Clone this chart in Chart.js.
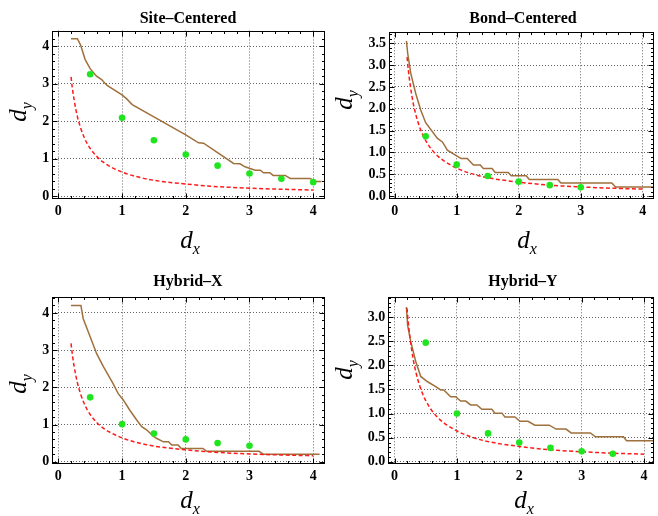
<!DOCTYPE html>
<html>
<head>
<meta charset="utf-8">
<script src="https://cdn.jsdelivr.net/npm/chart.js@4.4.1/dist/chart.umd.min.js"></script>
<style>
  html, body { margin: 0; padding: 0; background: #fff; }
  #wrap { position: relative; width: 658px; height: 516px; overflow: hidden; }
  canvas { position: absolute; }
  .tt { position: absolute; transform: translateX(-50%); font: bold 16px "Liberation Serif", serif; line-height: 1; white-space: nowrap; color: #000; }
  .ax { position: absolute; transform: translateX(-50%); font: italic 25px "Liberation Serif", serif; line-height: 1; white-space: nowrap; color: #000; }
  .ay { position: absolute; transform: translate(-50%, -50%) rotate(-90deg); font: italic 25px "Liberation Serif", serif; line-height: 1; white-space: nowrap; color: #000; }
  sub { font-size: 16px; line-height: 0; }
</style>
</head>
<body>
<div id="wrap">
  <canvas id="c1" width="329" height="258" style="left:0;top:0"></canvas>
  <canvas id="c2" width="329" height="258" style="left:329px;top:0"></canvas>
  <canvas id="c3" width="329" height="258" style="left:0;top:258px"></canvas>
  <canvas id="c4" width="329" height="258" style="left:329px;top:258px"></canvas>

  <div class="tt" style="left:188px;top:10px">Site–Centered</div>
  <div class="tt" style="left:523px;top:10px">Bond–Centered</div>
  <div class="tt" style="left:188px;top:273px">Hybrid–X</div>
  <div class="tt" style="left:523px;top:273px">Hybrid–Y</div>

  <div class="ax" style="left:190px;top:227px">d<sub>x</sub></div>
  <div class="ax" style="left:527px;top:227px">d<sub>x</sub></div>
  <div class="ax" style="left:190px;top:487px">d<sub>x</sub></div>
  <div class="ax" style="left:524px;top:487px">d<sub>x</sub></div>

  <div class="ay" style="left:17px;top:112px">d<sub>y</sub></div>
  <div class="ay" style="left:343px;top:100px">d<sub>y</sub></div>
  <div class="ay" style="left:17px;top:384px">d<sub>y</sub></div>
  <div class="ay" style="left:343px;top:370px">d<sub>y</sub></div>
</div>

<script>
// ================= DATA =================
const xTicks = [0, 1, 2, 3, 4];
const yTicksInt = [0, 1, 2, 3, 4];
const yTicksBond = [0, 0.5, 1, 1.5, 2, 2.5, 3, 3.5];
const yTicksHybY = [0, 0.5, 1, 1.5, 2, 2.5, 3];

// green points (measured)
const greenX = [0.5, 1, 1.5, 2, 2.5, 3, 3.5, 4];
const siteGreen = [3.25, 2.09, 1.49, 1.11, 0.81, 0.60, 0.46, 0.37];
const bondGreen = [1.37, 0.72, 0.46, 0.33, 0.25, 0.20];
const hybXGreen = [1.73, 1.01, 0.76, 0.60, 0.50, 0.43];
const hybYGreen = [2.47, 1.00, 0.59, 0.40, 0.29, 0.22, 0.17];

// red dashed curve, same in every panel
const curveX = [0.2, 0.22, 0.25, 0.3, 0.35, 0.4, 0.45, 0.5, 0.6, 0.7, 0.8, 1.0, 1.2, 1.5, 2.0, 2.5, 3.0, 3.5, 4.0];
const curveY = [3.18, 2.89, 2.55, 2.12, 1.82, 1.59, 1.41, 1.27, 1.06, 0.91, 0.80, 0.64, 0.53, 0.42, 0.32, 0.25, 0.21, 0.18, 0.16];

// brown lines
const siteX = [0.2, 0.3, 0.35, 0.42, 0.5, 0.6, 0.68, 0.76, 1.0, 1.07, 1.16, 2.0, 2.2, 2.28, 2.75, 2.85, 2.93, 3.09, 3.17, 3.22, 3.32, 3.37, 3.56, 3.64, 3.95, 4.03, 4.13];
const siteY = [4.2, 4.2, 4.03, 3.65, 3.4, 3.2, 3.11, 2.96, 2.7, 2.6, 2.44, 1.63, 1.42, 1.41, 0.87, 0.86, 0.78, 0.69, 0.69, 0.62, 0.62, 0.55, 0.55, 0.47, 0.47, 0.39, 0.39];

const bondX = [0.19, 0.21, 0.26, 0.34, 0.42, 0.5, 0.69, 0.77, 0.85, 1.0, 1.07, 1.17, 1.27, 1.38, 1.43, 1.57, 1.62, 1.83, 1.88, 2.12, 2.17, 2.63, 2.68, 3.5, 3.56, 4.17];
const bondY = [3.55, 3.27, 2.81, 2.35, 1.97, 1.68, 1.32, 1.24, 1.05, 0.92, 0.86, 0.86, 0.71, 0.71, 0.63, 0.63, 0.54, 0.54, 0.465, 0.465, 0.38, 0.38, 0.30, 0.30, 0.21, 0.21];

const hybXX = [0.2, 0.355, 0.39, 0.5, 0.6, 0.71, 0.86, 0.94, 1.02, 1.12, 1.23, 1.31, 1.39, 1.48, 1.54, 1.65, 1.73, 1.78, 1.88, 1.93, 2.27, 2.33, 3.15, 3.22, 4.1];
const hybXY = [4.2, 4.2, 3.85, 3.36, 2.91, 2.55, 2.10, 1.83, 1.66, 1.39, 1.12, 0.94, 0.85, 0.70, 0.63, 0.535, 0.535, 0.45, 0.45, 0.355, 0.355, 0.28, 0.28, 0.20, 0.20];

const hybYX = [0.19, 0.21, 0.26, 0.34, 0.42, 0.53, 0.66, 0.74, 0.79, 0.9, 0.98, 1.06, 1.14, 1.22, 1.32, 1.4, 1.56, 1.61, 1.72, 1.77, 1.93, 2.01, 2.14, 2.25, 2.48, 2.59, 2.75, 2.83, 3.14, 3.22, 3.67, 3.72, 4.15];
const hybYY = [3.21, 2.83, 2.49, 2.08, 1.77, 1.66, 1.56, 1.49, 1.49, 1.35, 1.35, 1.26, 1.26, 1.18, 1.18, 1.09, 1.09, 1.01, 1.01, 0.93, 0.93, 0.84, 0.84, 0.76, 0.76, 0.68, 0.68, 0.60, 0.60, 0.52, 0.52, 0.44, 0.44];

// ================= HELPERS =================
const BROWN = "#a0703c";
const pts = (xs, ys) => ys.map((y, i) => ({ x: xs[i], y }));

// black frame with inward major/minor ticks (Mathematica style)
const frame = {
    id: "frame",
    afterDraw(chart, args, opts) {
        const { ctx, chartArea: a, scales: { x, y } } = chart;
        const L = Math.round(a.left) + 0.5, R = Math.round(a.right) - 0.5;
        const T = Math.round(a.top) + 0.5, B = Math.round(a.bottom) - 0.5;
        ctx.save();
        ctx.strokeStyle = "#000";
        ctx.lineWidth = 1;
        ctx.beginPath();
        const tick = (axis, step, majorStep, horiz) => {
            for (let v = Math.ceil(axis.min / step) * step; v <= axis.max + 1e-9; v += step) {
                const vv = Math.round(v * 1000) / 1000;
                const major = Math.abs(vv / majorStep - Math.round(vv / majorStep)) < 1e-6;
                const len = major ? 5 : 2.5;
                const p = Math.round(axis.getPixelForValue(vv)) + 0.5;
                if (horiz) {
                    ctx.moveTo(p, B); ctx.lineTo(p, B - len);
                    ctx.moveTo(p, T); ctx.lineTo(p, T + len);
                } else {
                    ctx.moveTo(L, p); ctx.lineTo(L + len, p);
                    ctx.moveTo(R, p); ctx.lineTo(R - len, p);
                }
            }
        };
        tick(x, 0.2, 1, true);
        tick(y, opts.yMinor, opts.yMajor, false);
        ctx.stroke();
        ctx.strokeRect(L, T, R - L, B - T);
        ctx.restore();
    }
};

function makePanel(id, canvasBox, box, xr, yr, yTicks, decimals, brownX, brownY, green) {
    const [cl, ct, cw, ch] = canvasBox;
    const xH = 24;
    const yW = box.l - cl;
    const step = yTicks[1] - yTicks[0];
    new Chart(document.getElementById(id), {
        type: "scatter",
        data: {
            datasets: [
                {
                    data: pts(greenX, green),
                    showLine: false,
                    pointRadius: 3.3,
                    pointBackgroundColor: "#1ee51e",
                    pointBorderWidth: 0
                },
                {
                    data: pts(curveX, curveY),
                    showLine: true,
                    borderColor: "#ff1a1a",
                    borderWidth: 1.5,
                    borderDash: [4, 2.5],
                    cubicInterpolationMode: "monotone",
                    pointRadius: 0
                },
                {
                    data: pts(brownX, brownY),
                    showLine: true,
                    borderColor: BROWN,
                    borderWidth: 1.5,
                    tension: 0,
                    pointRadius: 0
                }
            ]
        },
        options: {
            responsive: false,
            animation: false,
            events: [],
            layout: {
                padding: { left: 0, top: box.t - ct, right: cl + cw - box.r, bottom: ct + ch - box.b - xH }
            },
            plugins: {
                legend: { display: false },
                tooltip: { enabled: false },
                frame: { yMajor: step, yMinor: step / 5 }
            },
            scales: {
                x: {
                    type: "linear",
                    min: xr[0], max: xr[1],
                    afterBuildTicks: s => { s.ticks = xTicks.map(v => ({ value: v })); },
                    afterFit: s => { s.height = xH; },
                    grid: { color: "rgba(0,0,0,0.6)", lineWidth: 1, drawTicks: false },
                    border: { display: false, dash: [1, 2] },
                    ticks: {
                        color: "#000", padding: 4,
                        font: { family: "Liberation Serif", weight: "bold", size: 14 },
                        callback: v => String(v)
                    }
                },
                y: {
                    type: "linear",
                    min: yr[0], max: yr[1],
                    afterBuildTicks: s => { s.ticks = yTicks.map(v => ({ value: v })); },
                    afterFit: s => { s.width = yW; },
                    grid: { color: "rgba(0,0,0,0.6)", lineWidth: 1, drawTicks: false },
                    border: { display: false, dash: [1, 2] },
                    ticks: {
                        color: "#000", padding: 3,
                        font: { family: "Liberation Serif", weight: "bold", size: 14 },
                        callback: v => Number(v).toFixed(decimals)
                    }
                }
            }
        },
        plugins: [frame]
    });
}

// ================= START =================
makePanel("c1", [0, 0, 329, 258], { l: 52.3, t: 30.5, r: 324.7, b: 199 },
    [-0.094, 4.18], [-0.08, 4.42], yTicksInt, 0, siteX, siteY, siteGreen);
makePanel("c2", [329, 0, 329, 258], { l: 389, t: 32.3, r: 657, b: 198.7 },
    [-0.091, 4.18], [-0.06, 3.75], yTicksBond, 1, bondX, bondY, bondGreen);
makePanel("c3", [0, 258, 329, 258], { l: 52.3, t: 297.3, r: 324.7, b: 464.3 },
    [-0.094, 4.18], [-0.07, 4.42], yTicksInt, 0, hybXX, hybXY, hybXGreen);
makePanel("c4", [329, 258, 329, 258], { l: 388.3, t: 297.3, r: 657, b: 464.3 },
    [-0.10, 4.16], [-0.05, 3.41], yTicksHybY, 1, hybYX, hybYY, hybYGreen);
</script>
</body>
</html>
